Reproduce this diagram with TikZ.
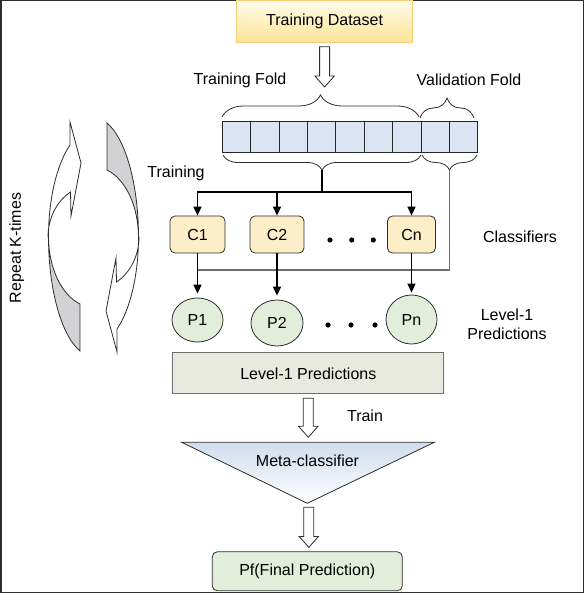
\documentclass[tikz,border=0pt]{standalone}
\usepackage{fontspec}
\setmainfont{Liberation Sans}
\usetikzlibrary{arrows.meta,positioning,shapes,calc,decorations.pathreplacing}
\definecolor{dsyellow}{RGB}{253,228,150}
\definecolor{dslight}{RGB}{255,251,234}
\definecolor{dsborder}{RGB}{247,206,118}
\definecolor{cellblue}{RGB}{218,228,242}
\definecolor{clfyellow}{RGB}{252,238,200}
\definecolor{predgreen}{RGB}{226,238,218}
\definecolor{lvlgray}{RGB}{232,234,224}
\definecolor{metablue}{RGB}{208,220,237}
\definecolor{ringgray}{RGB}{210,210,212}
\definecolor{linegray}{RGB}{110,110,110}
\definecolor{edgegray}{RGB}{45,45,45}

\newcommand{\fatarrow}[2]{%
  \draw[edgegray,line width=0.8pt,fill=white] let \p1=(#1), \p2=(#2) in
    (\x1-5pt,\y1) -- (\x1+5pt,\y1) -- (\x1+5pt,\y2+11pt) -- (\x1+9.7pt,\y2+11pt)
    -- (\x1,\y2) -- (\x1-9.7pt,\y2+11pt) -- (\x1-5pt,\y2+11pt) -- cycle;}

\begin{document}
\begin{tikzpicture}[x=1pt,y=-1pt,font=\fontsize{16}{19}\selectfont,
    cell/.style={draw=black!85,fill=cellblue,line width=0.8pt,minimum width=28.38pt,minimum height=30.6pt,inner sep=0pt},
    clf/.style={draw=edgegray,fill=clfyellow,rounded corners=5pt,line width=0.8pt,minimum width=55pt,minimum height=37pt},
    pred/.style={draw=edgegray,fill=predgreen,ellipse,line width=0.8pt,inner sep=0pt},
    brace/.style={decorate,decoration={brace,amplitude=#1},draw=edgegray,line width=0.8pt},
    flow/.style={-{Triangle[length=9pt,width=8pt]},line width=1.4pt}]
    \useasboundingbox (0,0) rectangle (584,593);
    \draw[edgegray,line width=1.5pt] (0.75,0.75) rectangle (583.25,592.25);

    % Data and folds
    \node[draw=dsborder,line width=1pt,top color=dslight,bottom color=dsyellow,minimum width=176pt,minimum height=41.5pt] (dataset) at (324.6,21.5) {Training Dataset};
    \node (trainfold) at (240,80) {Training Fold};
    \node (valfold) at (469,80) {Validation Fold};
    \coordinate (foldtip) at (324.6,87);
    \fatarrow{$(dataset.south)+(0,4)$}{foldtip}
    \foreach \i in {1,...,9}
        \node[cell] (cell\i) at ({222.3+28.38*(\i-0.5)},137) {};
    \draw[brace=22pt] (222,117) -- (419,117);
    \draw[brace=20pt] (420,118) -- (474,118);
    \draw[brace=15pt] (421,155) -- (223,155);
    \draw[brace=15pt] (477,155) -- (422,155);
    \coordinate (tbtip) at (322,170);
    \coordinate (vbtip) at (449.5,170);

    % Classifiers
    \node (traininglbl) at (176,173) {Training};
    \node[clf] (c1) at (197.5,234.5) {C1};
    \node[clf,minimum width=54pt] (c2) at (277,234.5) {C2};
    \node[clf,minimum width=48pt] (cn) at (411.5,234.5) {Cn};
    \foreach \x in {330,351.7,373.3} \fill (\x,240) circle (2.6);
    \node (clflbl) at (520,237) {Classifiers};
    \coordinate (split) at (322,192);
    \draw[line width=1.6pt] (tbtip) -- (split);
    \foreach \c in {c1,c2,cn}
        \draw[flow] (split) -| (\c.north);

    % Level-1 predictions
    \node[pred,minimum width=51pt,minimum height=44pt] (p1) at (197.5,320) {P1};
    \node[pred,minimum width=52pt,minimum height=46pt] (p2) at (277,323) {P2};
    \node[pred,minimum width=51pt,minimum height=49pt] (pn) at (411.5,319.5) {Pn};
    \foreach \x in {328,351,375} \fill (\x,325) circle (2.6);
    \node[align=center] (predlbl) at (507,324.5) {Level-1\\Predictions};
    \coordinate (valend) at (197.5,270);
    \draw[linegray,line width=1.4pt] (vbtip) |- (valend);
    \draw[flow,shorten >=4pt] (c1) -- (p1);
    \draw[flow,shorten >=4pt] (c2) -- (p2);
    \draw[flow,shorten >=2pt] (cn) -- (pn);
    \node[draw=linegray,fill=lvlgray,line width=0.8pt,minimum width=271pt,minimum height=41pt] (lvl) at (308.3,373.3) {Level-1 Predictions};

    % Meta-classifier
    \coordinate (metaL) at (181.7,442.3);
    \coordinate (metaR) at (434.3,442.3);
    \coordinate (metatip) at (307.3,503.3);
    \shade[top color=metablue,bottom color=white,draw=edgegray,line width=0.8pt] (metaL) -- (metaR) -- (metatip) -- cycle;
    \node (meta) at (307.5,460.5) {Meta-classifier};
    \node (trainlbl) at (365,416) {Train};
    \fatarrow{$(lvl.south)+(0,4)$}{$(metaL-|lvl.south)+(0,-5)$}
    \node[draw=edgegray,fill=predgreen,rounded corners=5pt,line width=0.8pt,minimum width=190pt,minimum height=39pt] (pf) at (307.3,571.3) {Pf(Final Prediction)};
    \fatarrow{$(metatip)+(1.5,4)$}{$(pf.north)+(0,-4)$}

    % Repeat cycle
    \node[rotate=90] (repeat) at (16.7,248) {Repeat K-times};
    \begin{scope}[edgegray,line width=0.8pt]
    \foreach \r in {0,180} {
        \begin{scope}[rotate around={\r:(93.5,237)}]
        \filldraw[fill=ringgray] (48.5,237) arc[start angle=180,end angle=107.5,x radius=45,y radius=119.5]
            -- (80,304) arc[start angle=107.5,end angle=180,x radius=45,y radius=70.4] -- cycle;
        \filldraw[fill=white] (48.5,237) arc[start angle=180,end angle=238.5,x radius=45,y radius=107.9]
            -- (70,122) -- (81,163) -- (71,216) -- (70.5,192)
            arc[start angle=240,end angle=180,x radius=45,y radius=52] -- cycle;
        \end{scope}}
    \end{scope}
\end{tikzpicture}
\end{document}
